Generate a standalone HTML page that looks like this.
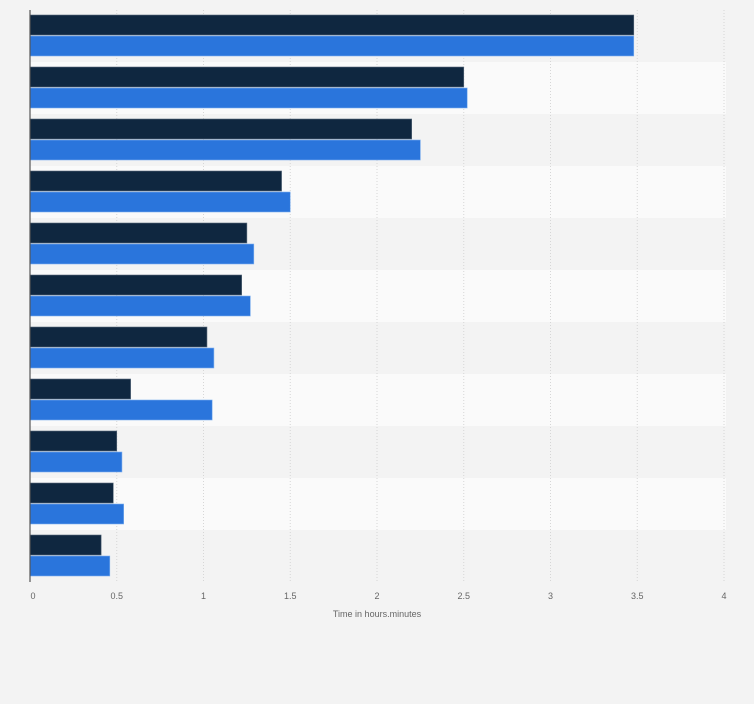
<!DOCTYPE html>
<html><head><meta charset="utf-8"><style>
body{margin:0;background:#f3f3f3;font-family:"Liberation Sans",sans-serif}
</style></head><body>
<svg id="chart" width="754" height="699" xmlns="http://www.w3.org/2000/svg"></svg>
<script>
const categories=["c1","c2","c3","c4","c5","c6","c7","c8","c9","c10","c11"];
const seriesDark=[3.48,2.50,2.20,1.45,1.25,1.22,1.02,0.58,0.50,0.48,0.41];
const seriesBlue=[3.48,2.52,2.25,1.50,1.29,1.27,1.06,1.05,0.53,0.54,0.46];
const ticks=[0,0.5,1,1.5,2,2.5,3,3.5,4];
const tickLabels=["0","0.5","1","1.5","2","2.5","3","3.5","4"];
const svg=document.getElementById('chart');
const NS='http://www.w3.org/2000/svg';
const x0=30,x1=724,yTop=10,band=52,maxV=4;
const X=v=>x0+(x1-x0)*v/maxV;
function mk(t,a){const e=document.createElementNS(NS,t);for(const k in a)e.setAttribute(k,a[k]);svg.appendChild(e);return e;}
categories.forEach((c,i)=>{
  const r=mk('rect',{x:x0,y:yTop+i*band,width:x1-x0+2,height:band,fill:i%2?'#fafafa':'#f3f3f3'});
  
  
});
ticks.forEach((t,i)=>{
  if(i>0){const g=mk('line',{x1:X(t),x2:X(t),y1:yTop,y2:yTop+band*categories.length,stroke:'#d6d6d6','stroke-dasharray':'1,2'});
  
  }
  const tx=mk('text',{x:X(t)+(i==0?3:0),y:599,'font-size':'9','fill':'#666','text-anchor':'middle'});
  tx.textContent=tickLabels[i];
  
  
});
categories.forEach((c,i)=>{
  const y=yTop+i*band+5;
  const d=mk('rect',{x:x0,y:y,width:X(seriesDark[i])-x0,height:20,fill:'#0f2740',stroke:'#5a6b7c','stroke-width':'0.6'});
  
  
  const b=mk('rect',{x:x0,y:y+21,width:X(seriesBlue[i])-x0,height:20,fill:'#2a75dc',stroke:'#7fb0ee','stroke-width':'0.6'});
  
  
});
const ax=mk('line',{x1:x0,x2:x0,y1:yTop,y2:yTop+band*categories.length,stroke:'#555','stroke-width':'1.2'});


const tt=mk('text',{x:377,y:617,'font-size':'9','fill':'#666','text-anchor':'middle'});
tt.textContent='Time in hours.minutes';


</script>
</body></html>
